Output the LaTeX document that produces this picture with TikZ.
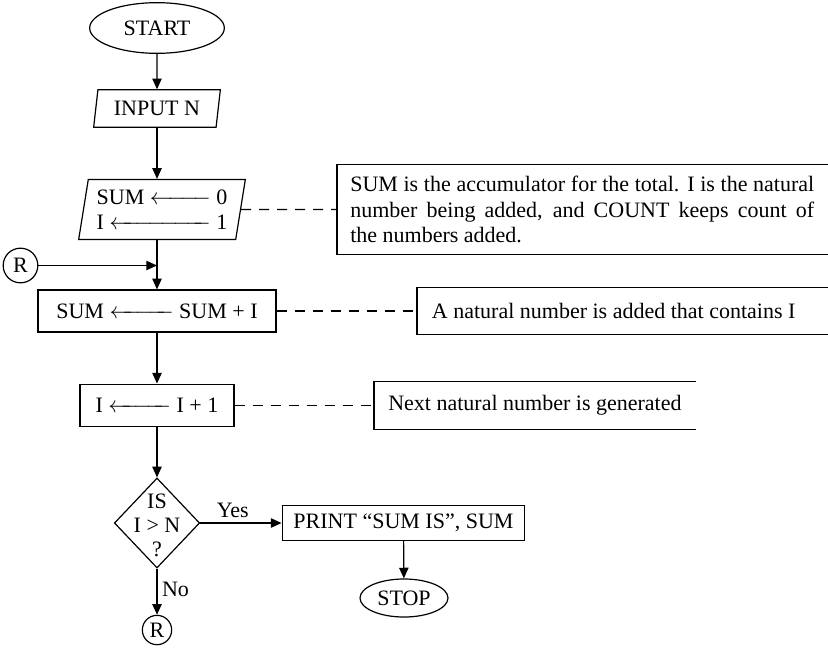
\documentclass[tikz,border=0pt]{standalone}
\usepackage{fontspec}
\setmainfont{Liberation Serif}
\usetikzlibrary{shapes.geometric,arrows.meta}

\begin{document}
\begin{tikzpicture}[x=0.75pt,y=-0.75pt,
  every node/.style={font=\fontsize{16.5}{19}\selectfont},
  ln/.style={line width=0.9pt},
  arr/.style={ln,-{Triangle[length=8pt,width=7pt]}},
  link/.style={line width=0.8pt,dash pattern=on 7.5pt off 6pt},
  term/.style={ellipse,draw,ln,inner sep=1pt},
  io/.style={trapezium,trapezium left angle=78,trapezium right angle=102,
    trapezium stretches body,draw,ln,inner sep=2pt},
  proc/.style={rectangle,draw,ln,inner sep=2pt},
  cond/.style={diamond,draw,ln,inner sep=0pt},
  conn/.style={circle,draw,ln,inner sep=0pt,minimum size=22pt},
  note/.style={rectangle,inner sep=0pt,anchor=west}]
  \useasboundingbox (0,0) rectangle (828,658);

  \node[term,minimum width=101pt,minimum height=38pt] (start) at (157,28) {START};
  \node[io,minimum width=95pt,minimum height=28pt] (input) at (157,108.5) {INPUT N};
  \node[io,minimum width=125pt,minimum height=45pt,align=left] (init) at (162,209.5)
    {\makebox[98pt]{SUM\ \leftarrowfill\ 0}\\\makebox[98pt]{I\ \leftarrowfill\ 1}};
  \node[proc,minimum width=178.5pt,minimum height=31.5pt] (sum) at (157,311)
    {\makebox[151pt]{SUM\ \leftarrowfill\ SUM + I}};
  \node[proc,minimum width=115.5pt,minimum height=32pt] (inc) at (157,405.5)
    {\makebox[92pt]{I\ \leftarrowfill\ I + 1}};
  \node[cond,minimum width=64pt,minimum height=67.5pt,
    label={[align=center,font=\fontsize{16.5}{18}\selectfont,yshift=-1.5pt]center:IS\\I > N\\?}] (test) at (157,523) {};
  \node[proc,minimum width=182pt,minimum height=26pt] (print) at (403.5,523) {PRINT “SUM IS”, SUM};
  \node[term,minimum width=66pt,minimum height=28.5pt] (stop) at (404,598) {STOP};
  \node[conn,minimum size=26pt] (r1) at (20.5,265.5) {R};
  \node[conn] (r2) at (157,630) {R};
  \coordinate (join) at (157,265.5);

  \node[note,text width=348pt,align=justify,minimum height=67.5pt,inner xsep=9.75pt] (note1) at (337,209.5)
    {\hyphenpenalty=10000 SUM is the accumulator for the total. I is the natural\linebreak
     number being added, and COUNT keeps count of\linebreak the numbers added.};
  \node[note,text width=286pt,align=flush left,minimum height=35pt,inner xsep=11pt] (note2) at (417,311)
    {A natural number is added that contains I};
  \node[note,minimum width=241pt,minimum height=35pt] (note3) at (374,405.5)
    {Next natural number is generated};
  \foreach \n in {note1,note2,note3}
    \draw[line width=0.8pt] (\n.north east) -- (\n.north west) -- (\n.south west) -- (\n.south east);

  \draw[arr] (start) -- (input);
  \draw[arr] (input.south) -- (input.south |- init.north);
  \draw[arr] (init.south -| sum.north) -- (sum.north);
  \draw[arr] (r1) -- (join);
  \draw[arr] (sum) -- (inc);
  \draw[arr] (inc) -- (test);
  \draw[arr] (test) -- node[above,pos=0.4] {Yes} (print);
  \draw[arr] (print) -- (stop);
  \draw[arr] (test) -- node[right,pos=0.45] {No} (r2);

  \draw[link] (init.east) -- (note1.west);
  \draw[link] (sum.east) -- (note2.west);
  \draw[link] (inc.east) -- (note3.west);
\end{tikzpicture}
\end{document}
